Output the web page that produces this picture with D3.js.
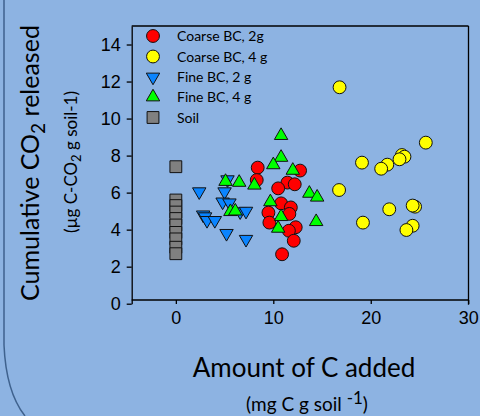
<!DOCTYPE html>
<html>
<head>
<meta charset="utf-8">
<script src="https://cdn.jsdelivr.net/npm/d3@7"></script>
<style>
  body { margin: 0; background: #8db3e2; }
  svg { display: block; }
  .tick text { font-family: "Liberation Sans", Arial, sans-serif; font-size: 18px; fill: #000; }
  .tick line, .domain { stroke: #000; stroke-width: 1.3; }
  .title { font-family: Lato, "Open Sans", sans-serif; fill: #000; }
  .legend text { font-family: Lato, "Open Sans", sans-serif; font-size: 14px; fill: #000; }
</style>
</head>
<body>
<div class="chart"></div>
<script>
// series data: [amount of C added, cumulative CO2]
var coarse2g = [
  [8.4, 7.35], [8.3, 6.68], [12.75, 7.19], [11.45, 6.54], [12.2, 6.45],
  [10.5, 6.23], [10.8, 5.42], [11.8, 5.2], [11.65, 4.85], [9.5, 4.92],
  [9.6, 4.38], [12.3, 4.13], [11.6, 3.94], [12.1, 3.4], [10.9, 2.67]
];
var coarse4g = [
  [16.8, 11.69], [25.65, 8.7], [19.1, 7.62], [21.7, 7.51], [21.07, 7.29],
  [23.2, 8.03], [23.46, 7.94], [22.95, 7.8], [16.75, 6.14], [21.9, 5.1],
  [24.55, 5.24], [24.3, 5.3], [19.2, 4.38], [24.3, 4.21], [23.66, 3.98]
];
var fine2g = [
  [2.4, 6.05], [5.3, 6.7], [5.0, 6.05], [4.8, 5.5], [5.5, 5.45],
  [2.8, 4.8], [3.0, 4.7], [3.2, 4.5], [4.0, 4.5], [6.6, 4.97],
  [7.2, 5.0], [5.2, 3.8], [7.2, 3.48]
];
var fine4g = [
  [5.1, 6.6], [6.5, 6.55], [8.06, 6.4], [5.6, 4.97], [6.1, 5.0],
  [10.8, 9.08], [10.8, 7.9], [10.0, 7.5], [12.0, 7.2], [13.7, 5.96],
  [14.5, 5.75], [9.7, 5.5], [10.8, 4.7], [10.5, 4.07], [14.4, 4.43]
];
var soil = [
  [0, 7.4], [0, 5.6], [0, 5.3], [0, 4.95], [0, 4.6], [0, 4.25],
  [0, 3.85], [0, 3.5], [0, 3.05], [0, 2.7]
];

var seriesNames = ["Coarse BC, 2g", "Coarse BC, 4 g", "Fine BC, 2 g", "Fine BC, 4 g", "Soil"];
var xTicks = [0, 10, 20, 30];
var yTicks = [0, 2, 4, 6, 8, 10, 12, 14];

var svgWidth = 480;
var svgHeight = 416;

var svg = d3
    .select(".chart")
    .append("svg")
    .attr("width", svgWidth)
    .attr("height", svgHeight);

// slide border on the left
svg.append("path")
    .attr("d", "M4,0 V345 Q6,392 25,416")
    .attr("fill", "none")
    .attr("stroke", "#3f628e")
    .attr("stroke-width", 1.5);

var plot = { left: 131.7, right: 468.5, top: 26, bottom: 303.7 };

var xScale = d3.scaleLinear().domain([-4.53, 30]).range([plot.left, 468.2]);
var yScale = d3.scaleLinear().domain([0, 15]).range([plot.bottom, plot.top]);

// frame: top and right lines
svg.append("line")
    .attr("x1", plot.left).attr("x2", plot.right)
    .attr("y1", plot.top).attr("y2", plot.top)
    .attr("stroke", "#000").attr("stroke-width", 1.3);
svg.append("line")
    .attr("x1", plot.right).attr("x2", plot.right)
    .attr("y1", plot.top).attr("y2", plot.bottom + 1)
    .attr("stroke", "#000").attr("stroke-width", 1.3);

// axes
var leftAxis = d3.axisLeft(yScale).tickValues(yTicks).tickSize(5).tickSizeOuter(0).tickPadding(6);
var bottomAxis = d3.axisBottom(xScale).tickValues(xTicks).tickSize(4).tickSizeOuter(0).tickPadding(7);

svg.append("g")
    .attr("transform", "translate(" + plot.left + ",0)")
    .call(leftAxis);

svg.append("g")
    .attr("transform", "translate(0," + (plot.bottom - 3.7) + ")")
    .call(bottomAxis)
    .select(".domain")
    .attr("d", "M" + plot.left + ",0H" + plot.right);

// marks
var circle = d3.symbol().type(d3.symbolCircle).size(130);
var tri = d3.symbol().type(d3.symbolTriangle).size(78);
var square = d3.symbol().type(d3.symbolSquare).size(140);

function drawSeries(data, sym, fill, rot) {
  svg.append("g")
    .selectAll("path")
    .data(data)
    .enter()
    .append("path")
    .attr("d", sym)
    .attr("transform", function(d) {
      return "translate(" + xScale(d[0]) + "," + yScale(d[1]) + ")" + (rot ? " rotate(180)" : "");
    })
    .attr("fill", fill)
    .attr("stroke", "#111")
    .attr("stroke-width", 1);
}

drawSeries(soil, square, "#808080", false);
drawSeries(coarse4g, circle, "#ffff00", false);
drawSeries(coarse2g, circle, "#ff0000", false);
drawSeries(fine2g, tri, "#0a84ff", true);
drawSeries(fine4g, tri, "#00ff00", false);

// legend
var legendSyms = [
  { sym: circle, fill: "#ff0000", rot: false },
  { sym: circle, fill: "#ffff00", rot: false },
  { sym: tri, fill: "#0a84ff", rot: true },
  { sym: tri, fill: "#00ff00", rot: false },
  { sym: square, fill: "#808080", rot: false }
];
var legendY = [36, 56.5, 77, 97, 117.5];

var legend = svg.append("g").attr("class", "legend");
seriesNames.forEach(function(name, i) {
  legend.append("path")
    .attr("d", legendSyms[i].sym)
    .attr("transform", "translate(153," + legendY[i] + ")" + (legendSyms[i].rot ? " rotate(180)" : ""))
    .attr("fill", legendSyms[i].fill)
    .attr("stroke", "#111")
    .attr("stroke-width", 1);
  legend.append("text")
    .attr("x", 177)
    .attr("y", legendY[i] + 5)
    .text(name);
});

// y axis titles
var yTitle = svg.append("text")
    .attr("class", "title")
    .attr("transform", "translate(39,163) rotate(-90)")
    .attr("text-anchor", "middle")
    .style("font-size", "25px");
yTitle.append("tspan").text("Cumulative CO");
yTitle.append("tspan").attr("dy", 6).style("font-size", "19px").text("2");
yTitle.append("tspan").attr("dy", -6).text(" released");

var ySub = svg.append("text")
    .attr("class", "title")
    .attr("transform", "translate(77,162) rotate(-90)")
    .attr("text-anchor", "middle")
    .style("font-size", "17px");
ySub.append("tspan").text("(\u00b5g C-CO");
ySub.append("tspan").attr("dy", 4).style("font-size", "13px").text("2");
ySub.append("tspan").attr("dy", -4).text(" g soil-1)");

// x axis titles
svg.append("text")
    .attr("class", "title")
    .attr("x", 304)
    .attr("y", 377)
    .attr("text-anchor", "middle")
    .style("font-size", "26px")
    .text("Amount of C added");

var xSub = svg.append("text")
    .attr("class", "title")
    .attr("x", 307)
    .attr("y", 411)
    .attr("text-anchor", "middle")
    .style("font-size", "19px");
xSub.append("tspan").text("(mg C g soil ");
xSub.append("tspan").attr("dy", -7).style("font-size", "17px").text("-1");
xSub.append("tspan").attr("dy", 7).text(")");
</script>
</body>
</html>
